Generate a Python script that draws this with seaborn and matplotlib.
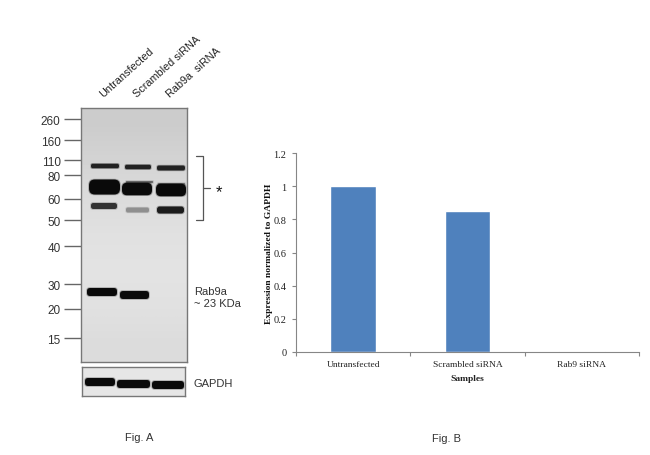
import numpy as np
import pandas as pd
import matplotlib
matplotlib.use('Agg')
import matplotlib.pyplot as plt
from matplotlib.patches import FancyBboxPatch
import seaborn as sns

sns.set_style('white')
plt.rcParams['font.family'] = ['Liberation Sans', 'DejaVu Sans']

W, H = 650, 456

# Fig. B values
samples = ['Untransfected', 'Scrambled siRNA', 'Rab9 siRNA']
expression = [1.0, 0.85, 0.005]
y_ticks = [0, 0.2, 0.4, 0.6, 0.8, 1.0, 1.2]
y_tick_labels = ['0', '0.2', '0.4', '0.6', '0.8', '1', '1.2']

# Fig. A ladder, read as pixel rows of the blot
marker_kda = ['260', '160', '110', '80', '60', '50', '40', '30', '20', '15']
marker_rows = [120, 141, 161, 176, 200, 221, 247, 285, 310, 339]
lane_names = ['Untransfected', 'Scrambled siRNA', 'Rab9a  siRNA']
lane_centers = [104, 138, 171]

# bands as read from the blot: start, end, row, thickness, grey level
band_start = [91, 125, 157, 126, 158, 89, 122, 156, 91, 126, 157, 87, 120]
band_end = [119, 151, 185, 153, 185, 120, 152, 186, 117, 149, 184, 117, 149]
band_row = [167, 168, 169, 183, 185, 188, 190, 191, 207, 211, 211, 293, 296]
band_thick = [4.5, 4.5, 5, 2, 2, 15, 12.5, 12.5, 6, 5, 7, 8, 8]
band_grey = ['#222222', '#222222', '#222222', '#666666', '#777777',
             '#0a0a0a', '#0a0a0a', '#0a0a0a',
             '#333333', '#8f8f8f', '#1c1c1c', '#0a0a0a', '#0a0a0a']

gapdh_start = [85, 117, 152]
gapdh_end = [115, 150, 184]
gapdh_row = [383, 385, 386]
gapdh_thick = [8, 8, 8]

# background grey of the membrane from top to bottom
membrane_grey = [0.80, 0.83, 0.86, 0.88, 0.89, 0.88, 0.86]


def px_axes(left, top, right, bottom):
    return fig.add_axes([left / W, 1 - bottom / H, (right - left) / W, (bottom - top) / H])


def draw_bands(ax, starts, ends, rows, thick, greys):
    for s, e, r, t, g in zip(starts, ends, rows, thick, greys):
        # soft halo first, then the dense core
        for grow, a in [(1.4, 0.3), (0, 1)]:
            box = FancyBboxPatch((s - grow / 2, r - t / 2 - grow / 2), e - s + grow, t + grow,
                                 boxstyle='round,pad=0,rounding_size=%.1f' % (t * 0.4),
                                 fc=g, ec='none', alpha=a)
            ax.add_patch(box)


fig = plt.figure(figsize=(W / 100, H / 100), dpi=100)

# main blot
ax_blot = px_axes(81.5, 109, 187, 363)
ax_blot.imshow(np.array(membrane_grey).reshape(-1, 1), cmap='gray', vmin=0, vmax=1,
               aspect='auto', extent=(81.5, 187, 363, 109), interpolation='bilinear')
ax_blot.set_xlim(81.5, 187)
ax_blot.set_ylim(363, 109)
draw_bands(ax_blot, band_start, band_end, band_row, band_thick, band_grey)
ax_blot.set_yticks(marker_rows)
ax_blot.set_yticklabels(marker_kda, fontsize=8.5, color='#333333')
ax_blot.tick_params(axis='y', length=12, width=1, color='#666666', pad=3, left=True)
ax_blot.xaxis.tick_top()
ax_blot.set_xticks(lane_centers)
ax_blot.set_xticklabels(lane_names, rotation=42, ha='left', rotation_mode='anchor',
                        fontsize=7.8, color='#222222')
ax_blot.tick_params(axis='x', length=0, pad=7)
for sp in ax_blot.spines.values():
    sp.set_color('#777777')
    sp.set_linewidth(1)

# loading control
ax_gapdh = px_axes(82, 368, 185, 397)
ax_gapdh.set_facecolor('#e6e6e6')
ax_gapdh.set_xlim(82, 185)
ax_gapdh.set_ylim(397, 368)
draw_bands(ax_gapdh, gapdh_start, gapdh_end, gapdh_row, gapdh_thick, ['#0a0a0a'] * 3)
ax_gapdh.set_xticks([])
ax_gapdh.set_yticks([])
for sp in ax_gapdh.spines.values():
    sp.set_color('#777777')
    sp.set_linewidth(1)

# overlay in pixels for the bracket and loose labels
ax_top = fig.add_axes([0, 0, 1, 1])
ax_top.set_xlim(0, W)
ax_top.set_ylim(H, 0)
ax_top.axis('off')
ax_top.patch.set_alpha(0)
ax_top.plot([196, 203, 203, 196], [157, 157, 221, 221], color='#555555', lw=0.9)
ax_top.plot([203, 210], [189, 189], color='#555555', lw=0.9)
ax_top.text(219, 193, '*', fontsize=12, ha='center', va='center', color='#111111')
ax_top.text(194, 292, 'Rab9a', fontsize=8, va='center', color='#333333')
ax_top.text(194, 304, '~ 23 KDa', fontsize=8, va='center', color='#333333')
ax_top.text(194, 384, 'GAPDH', fontsize=8, va='center', color='#333333')
ax_top.text(139, 438, 'Fig. A', fontsize=8, ha='center', va='center', color='#333333')
ax_top.text(447, 439, 'Fig. B', fontsize=8, ha='center', va='center', color='#333333')

# bar chart
ax_bar = px_axes(296, 154, 639, 353)
df = pd.DataFrame({'sample': samples, 'expression': expression})
sns.barplot(data=df, x='sample', y='expression', color='#4f81bd', saturation=1,
            width=0.4, ax=ax_bar)
ax_bar.set_xlim(-0.5, 2.5)
ax_bar.set_ylim(0, 1.2)
ax_bar.set_yticks(y_ticks)
ax_bar.set_yticklabels(y_tick_labels, family='Liberation Serif', fontsize=7.5, color='#222222')
ax_bar.set_xticks([0, 1, 2])
ax_bar.set_xticklabels(samples, family='Liberation Serif', fontsize=6.8, color='#222222')
ax_bar.set_xticks(np.arange(-0.5, 3), minor=True)
ax_bar.tick_params(axis='x', which='major', length=0, pad=6)
ax_bar.tick_params(axis='x', which='minor', length=3, width=0.8, color='#868686', bottom=True)
ax_bar.tick_params(axis='y', length=3, width=0.8, color='#868686', pad=4, left=True)
ax_bar.set_xlabel('Samples', family='Liberation Serif', fontsize=6.8, fontweight='bold',
                  color='#222222', labelpad=4)
ax_bar.set_ylabel('Expression normalized to GAPDH', family='Liberation Serif', fontsize=6.8,
                  fontweight='bold', color='#111111', labelpad=0)
ax_bar.yaxis.set_label_coords(-0.067, 0.5)
ax_bar.patch.set_alpha(0)
sns.despine(ax=ax_bar)
for side in ['left', 'bottom']:
    ax_bar.spines[side].set_color('#868686')
    ax_bar.spines[side].set_linewidth(0.8)

fig.savefig('out.png', dpi=100)
